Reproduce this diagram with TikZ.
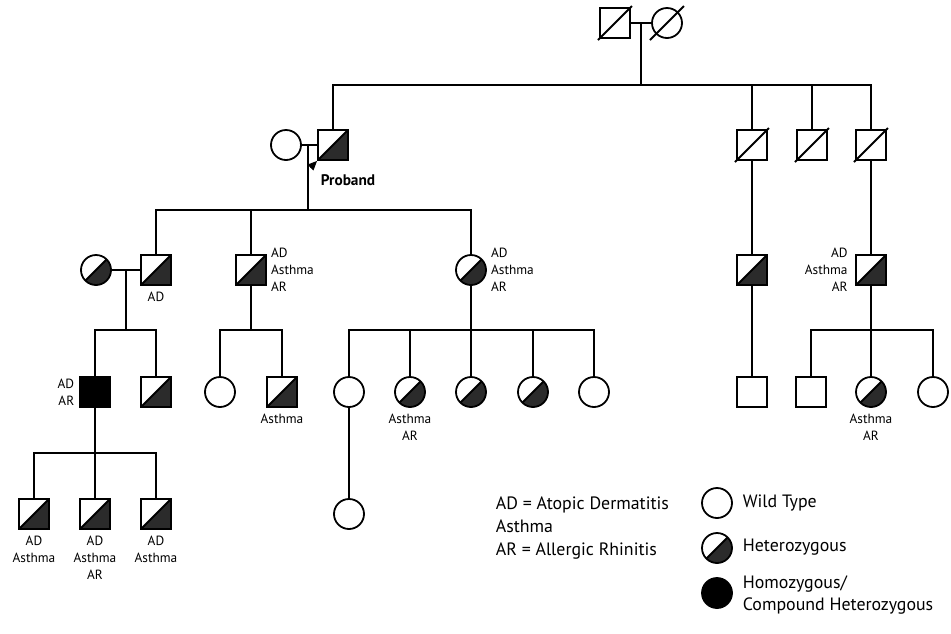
\documentclass[tikz,border=0pt]{standalone}
\usepackage{fontspec}
\setmainfont{PT Sans}
\usetikzlibrary{positioning,arrows.meta}
\definecolor{hetgray}{HTML}{2B2B2B}

\begin{document}
\begin{tikzpicture}[
            x=0.75pt, y=-0.75pt,
            line width=1.35pt,
            person/.style={draw, line width=1.35pt, minimum size=22.5pt, inner sep=0pt},
            male/.style={person, rectangle},
            female/.style={person, circle},
            het/.style={path picture={
                \fill[hetgray] (path picture bounding box.south west) -- (path picture bounding box.south east)
                    -- (path picture bounding box.north east) -- cycle;
                \draw[line width=1.35pt] (path picture bounding box.south west) -- (path picture bounding box.north east);}},
            hom/.style={fill=black},
            dead/.style={append after command={
                ([shift={(-12.75pt,-12.75pt)}]\tikzlastnode.center) edge[draw, line width=1.35pt]
                ([shift={(12.75pt,12.75pt)}]\tikzlastnode.center)}},
            lab/.style={font=\fontsize{10}{12.75}\selectfont, inner sep=1pt},
            leg/.style={font=\fontsize{13.4}{17}\selectfont, inner sep=0pt, anchor=west, align=left}
        ]
        \useasboundingbox (0,0) rectangle (951,633);

        % --- generation I ---
        \node[male, dead] (I1) at (615,23) {};
        \node[female, dead] (I2) at (667,23) {};
        \draw (I1) -- (I2);
        \coordinate (mI) at (641,23);
        \coordinate (sI) at (641,85);
        \draw (mI) -- (sI);

        % --- generation II ---
        \node[female] (II1) at (286,145) {};
        \node[male, het] (II2) at (333,145) {};
        \node[male, dead] (II3) at (752,145) {};
        \node[male, dead] (II4) at (812,145) {};
        \node[male, dead] (II5) at (871,145) {};
        \foreach \k in {II2,II3,II4,II5} \draw (sI) -| (\k);
        \draw (II1) -- (II2);
        \draw[-{Triangle[length=7pt,width=6pt]}, line width=0.8pt] ([shift={(-5pt,-5pt)}]II2.south west) -- (II2.south west);
        \node[font=\fontsize{11.5}{13}\selectfont\bfseries] (prob) at (348,180) {Proband};
        \coordinate (mII) at (308,145);
        \coordinate (sII) at (308,210);
        \draw (mII) -- (sII);

        % --- generation III ---
        \node[female, het] (III1) at (96,270) {};
        \node[male, het] (III2) at (156,270) {};
        \node[male, het] (III3) at (251,270) {};
        \node[female, het] (III4) at (471,270) {};
        \node[male, het] (III5) at (752,270) {};
        \node[male, het] (III6) at (871,270) {};
        \foreach \k in {III2,III3,III4} \draw (sII) -| (\k);
        \draw (II3) -- (III5);
        \draw (II5) -- (III6);
        \draw (III1) -- (III2);
        \node[lab, below=3pt of III2] (t32) {AD};
        \node[lab, right=1.5pt of III3, align=left] (t33) {AD\\Asthma\\AR};
        \node[lab, right=1.5pt of III4, align=left] (t34) {AD\\Asthma\\AR};
        \node[lab, left=4pt of III6, align=right] (t36) {AD\\Asthma\\AR};
        \coordinate (mIIIa) at (126,270);
        \coordinate (sIIIa) at (126,330);
        \coordinate (sIIIb) at (251,330);
        \coordinate (sIIIc) at (471,330);
        \coordinate (sIIId) at (871,330);
        \draw (mIIIa) -- (sIIIa);
        \draw (III3) -- (sIIIb);
        \draw (III4) -- (sIIIc);
        \draw (III6) -- (sIIId);

        % --- generation IV ---
        \node[male, hom] (IV1) at (95,392) {};
        \node[male, het] (IV2) at (156,392) {};
        \node[female] (IV3) at (220,392) {};
        \node[male, het] (IV4) at (282,392) {};
        \node[female] (IV5) at (349,392) {};
        \node[female, het] (IV6) at (410,392) {};
        \node[female, het] (IV7) at (471,392) {};
        \node[female, het] (IV8) at (533,392) {};
        \node[female] (IV9) at (594,392) {};
        \node[male] (IV10) at (752,392) {};
        \node[male] (IV11) at (811,392) {};
        \node[female, het] (IV12) at (871,392) {};
        \node[female] (IV13) at (933,392) {};
        \foreach \k in {IV1,IV2} \draw (sIIIa) -| (\k);
        \foreach \k in {IV3,IV4} \draw (sIIIb) -| (\k);
        \foreach \k in {IV5,IV6,IV7,IV8,IV9} \draw (sIIIc) -| (\k);
        \foreach \k in {IV11,IV12,IV13} \draw (sIIId) -| (\k);
        \draw (III5) -- (IV10);
        \node[lab, left=2pt of IV1, align=right] (t41) {AD\\AR};
        \node[lab, below=3pt of IV4] (t44) {Asthma};
        \node[lab, below=3pt of IV6, align=center] (t46) {Asthma\\AR};
        \node[lab, below=3pt of IV12, align=center] (t412) {Asthma\\AR};

        % --- generation V ---
        \coordinate (sIV) at (95,453);
        \draw (IV1) -- (sIV);
        \node[male, het] (V1) at (34,514) {};
        \node[male, het] (V2) at (95,514) {};
        \node[male, het] (V3) at (156,514) {};
        \node[female] (V4) at (349,514) {};
        \foreach \k in {V1,V2,V3} \draw (sIV) -| (\k);
        \draw (IV5) -- (V4);
        \node[lab, below=3pt of V1, align=center] (t51) {AD\\Asthma};
        \node[lab, below=3pt of V2, align=center] (t52) {AD\\Asthma\\AR};
        \node[lab, below=3pt of V3, align=center] (t53) {AD\\Asthma};

        % --- legend ---
        \node[leg, font=\fontsize{13.4}{16.9}\selectfont] (key) at (495,528) {AD = Atopic Dermatitis\\Asthma\\AR = Allergic Rhinitis};
        \node[female] (Lwt) at (717,503) {};
        \node[female, het] (Lhet) at (717,548) {};
        \node[female, hom] (Lhom) at (717,593) {};
        \node[leg] (Lwtt) at (742,503) {Wild Type};
        \node[leg] (Lhett) at (742,547) {Heterozygous};
        \node[leg] (Lhomt) at (742,595) {Homozygous/\\Compound Heterozygous};
        \end{tikzpicture}
\end{document}
